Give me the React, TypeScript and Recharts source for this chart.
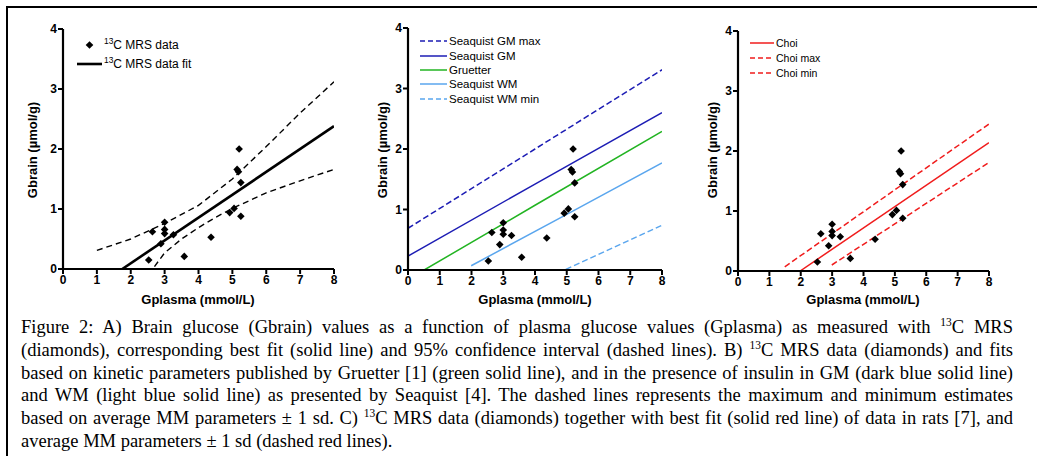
import React from 'react';
import { ComposedChart, XAxis, YAxis, Line, Scatter } from 'recharts';

// 13C MRS measurements (Gplasma mmol/L, Gbrain umol/g)
const mrsData = [
  { x: 2.53, y: 0.15 },
  { x: 2.64, y: 0.62 },
  { x: 2.89, y: 0.42 },
  { x: 3.0, y: 0.78 },
  { x: 3.0, y: 0.66 },
  { x: 3.0, y: 0.59 },
  { x: 3.26, y: 0.57 },
  { x: 3.58, y: 0.21 },
  { x: 4.37, y: 0.53 },
  { x: 4.92, y: 0.94 },
  { x: 5.05, y: 1.01 },
  { x: 5.14, y: 1.66 },
  { x: 5.18, y: 1.62 },
  { x: 5.2, y: 2.0 },
  { x: 5.25, y: 1.44 },
  { x: 5.25, y: 0.88 },
];

const xTicks = [0, 1, 2, 3, 4, 5, 6, 7, 8];
const yTicks = [0, 1, 2, 3, 4];

// panel A
const fitA = [{ x: 1.75, y: 0 }, { x: 8, y: 2.38 }];
const upperA = [
  { x: 1, y: 0.31 }, { x: 2, y: 0.5 }, { x: 3, y: 0.76 }, { x: 4, y: 1.06 },
  { x: 5, y: 1.5 }, { x: 6, y: 2.04 }, { x: 7, y: 2.6 }, { x: 8, y: 3.12 },
];
const lowerA = [
  { x: 2.7, y: 0.04 }, { x: 3, y: 0.27 }, { x: 3.5, y: 0.5 }, { x: 4, y: 0.69 },
  { x: 4.5, y: 0.86 }, { x: 5, y: 1.01 }, { x: 6, y: 1.27 }, { x: 7, y: 1.47 }, { x: 8, y: 1.66 },
];

// panel B
const gmMax = [{ x: 0, y: 0.69 }, { x: 4, y: 2.0 }, { x: 8, y: 3.31 }];
const gm = [{ x: 0, y: 0.23 }, { x: 4, y: 1.42 }, { x: 8, y: 2.6 }];
const gruetter = [{ x: 0.51, y: 0 }, { x: 4, y: 1.07 }, { x: 8, y: 2.29 }];
const wm = [{ x: 1.99, y: 0.07 }, { x: 5, y: 0.92 }, { x: 8, y: 1.77 }];
const wmMin = [{ x: 4.97, y: 0.01 }, { x: 8, y: 0.74 }];

// panel C
const choi = [{ x: 1.98, y: 0 }, { x: 8, y: 2.14 }];
const choiMax = [{ x: 1.49, y: 0.07 }, { x: 8, y: 2.45 }];
const choiMin = [{ x: 2.99, y: 0.1 }, { x: 8, y: 1.81 }];

const captionLines = [
  ['Figure 2: A) Brain glucose (Gbrain) values as a function of plasma glucose values (Gplasma) as measured with ', '13', 'C MRS'],
  ['(diamonds), corresponding best fit (solid line) and 95% confidence interval (dashed lines). B) ', '13', 'C MRS data (diamonds) and fits'],
  ['based on kinetic parameters published by Gruetter [1] (green solid line), and in the presence of insulin in GM (dark blue solid line)'],
  ['and WM (light blue solid line) as presented by Seaquist [4]. The dashed lines represents the maximum and minimum estimates'],
  ['based on average MM parameters \u00b1 1 sd. C) ', '13', 'C MRS data (diamonds) together with best fit (solid red line) of data in rats [7], and'],
  ['average MM parameters \u00b1 1 sd (dashed red lines).'],
];

const SANS = '"Liberation Sans", Arial, sans-serif';
const DARK_BLUE = '#1c1cb4';
const GREEN = '#22b422';
const LIGHT_BLUE = '#5aa6ee';
const RED = '#f01c1c';

const Diamond = (props: any) => {
  const { cx, cy } = props;
  if (cx == null || cy == null) return null;
  const r = 3.8;
  return <path d={`M${cx},${cy - r}L${cx + r},${cy}L${cx},${cy + r}L${cx - r},${cy}Z`} fill="#000" />;
};

const tickStyle = { fill: '#000', fontSize: 12, fontWeight: 700, fontFamily: SANS };

function Panel({ left, top, w, h, children }: any) {
  const yw = 50;
  return (
    <div style={{ position: 'absolute', left: left - yw, top: 0 }}>
      <ComposedChart
        width={yw + w + 6}
        height={top + h + 22}
        margin={{ top, right: 6, left: 0, bottom: 0 }}
      >
        <XAxis
          type="number"
          dataKey="x"
          domain={[0, 8]}
          ticks={xTicks}
          interval={0}
          allowDataOverflow
          height={22}
          tickSize={5}
          tickMargin={1}
          tick={tickStyle}
          axisLine={{ stroke: '#000', strokeWidth: 2.2 }}
          tickLine={{ stroke: '#000', strokeWidth: 2 }}
        />
        <YAxis
          type="number"
          dataKey="y"
          domain={[0, 4]}
          ticks={yTicks}
          interval={0}
          allowDataOverflow
          width={yw}
          tickSize={5}
          tickMargin={1}
          tick={tickStyle}
          axisLine={{ stroke: '#000', strokeWidth: 2.2 }}
          tickLine={{ stroke: '#000', strokeWidth: 2 }}
        />
        {children}
        <Scatter data={mrsData} dataKey="y" shape={Diamond} isAnimationActive={false} />
      </ComposedChart>
    </div>
  );
}

function line(data: any[], color: string, width: number, dash?: string, key?: string) {
  return (
    <Line
      key={key}
      data={data}
      dataKey="y"
      type="linear"
      stroke={color}
      strokeWidth={width}
      strokeDasharray={dash}
      dot={false}
      activeDot={false}
      isAnimationActive={false}
    />
  );
}

function LegendRow({ x, y, len, color, width, dash, label, size, marker }: any) {
  return (
    <div style={{ position: 'absolute', left: x, top: y - 8, height: 16, display: 'flex', alignItems: 'center', fontFamily: SANS, fontSize: size, whiteSpace: 'nowrap' }}>
      <svg width={len} height={16} style={{ display: 'block' }}>
        {marker ? (
          <path d={`M${len / 2},4.2L${len / 2 + 3.8},8L${len / 2},11.8L${len / 2 - 3.8},8Z`} fill="#000" />
        ) : (
          <line x1={0} y1={8} x2={len} y2={8} stroke={color} strokeWidth={width} strokeDasharray={dash} />
        )}
      </svg>
      <span style={{ marginLeft: 2 }}>{label}</span>
    </div>
  );
}

const sup13 = (rest: string) => (
  <>
    <sup style={{ fontSize: '0.7em', verticalAlign: 'super', lineHeight: 0 }}>13</sup>
    {rest}
  </>
);

function YTitle({ x }: { x: number }) {
  return (
    <div style={{ position: 'absolute', left: x - 80, top: 150 - 8, width: 160, height: 16, lineHeight: '16px', textAlign: 'center', transform: 'rotate(-90deg)', fontFamily: SANS, fontWeight: 700, fontSize: 13 }}>
      Gbrain (µmol/g)
    </div>
  );
}

function XTitle({ x }: { x: number }) {
  return (
    <div style={{ position: 'absolute', left: x - 80, top: 300 - 8, width: 160, height: 16, lineHeight: '16px', textAlign: 'center', fontFamily: SANS, fontWeight: 700, fontSize: 13 }}>
      Gplasma (mmol/L)
    </div>
  );
}

export default function App() {
  return (
    <div style={{ position: 'absolute', left: 0, top: 0, width: 1037, height: 456, background: '#fff', overflow: 'hidden' }}>
      <div style={{ position: 'absolute', left: 6, top: 6, width: 1100, height: 500, borderLeft: '2.5px solid #000', borderTop: '2.5px solid #000' }} />

      <Panel left={63} top={29} w={271} h={240}>
        {line(fitA, '#000', 2.6, undefined, 'fit')}
        {line(upperA, '#000', 1.4, '6 4', 'up')}
        {line(lowerA, '#000', 1.4, '6 4', 'lo')}
      </Panel>
      <Panel left={408} top={28} w={254} h={242}>
        {line(gmMax, DARK_BLUE, 1.5, '6 3', 'gmmax')}
        {line(gm, DARK_BLUE, 1.5, undefined, 'gm')}
        {line(gruetter, GREEN, 1.5, undefined, 'gr')}
        {line(wm, LIGHT_BLUE, 1.5, undefined, 'wm')}
        {line(wmMin, LIGHT_BLUE, 1.5, '6 3', 'wmmin')}
      </Panel>
      <Panel left={738} top={31} w={251} h={240}>
        {line(choiMax, RED, 1.5, '6 3', 'cmax')}
        {line(choi, RED, 1.5, undefined, 'c')}
        {line(choiMin, RED, 1.5, '6 3', 'cmin')}
      </Panel>

      <LegendRow x={77} y={45} len={25} marker label={sup13('C MRS data')} size={12} />
      <LegendRow x={77} y={64} len={25} color="#000" width={2.6} label={sup13('C MRS data fit')} size={12} />

      <LegendRow x={420} y={41} len={27} color={DARK_BLUE} width={1.5} dash="5 3" label="Seaquist GM max" size={11.5} />
      <LegendRow x={420} y={56} len={27} color={DARK_BLUE} width={1.5} label="Seaquist GM" size={11.5} />
      <LegendRow x={420} y={70} len={27} color={GREEN} width={1.5} label="Gruetter" size={11.5} />
      <LegendRow x={420} y={84} len={27} color={LIGHT_BLUE} width={1.5} label="Seaquist WM" size={11.5} />
      <LegendRow x={420} y={99} len={27} color={LIGHT_BLUE} width={1.5} dash="5 3" label="Seaquist WM min" size={11.5} />

      <LegendRow x={750} y={43} len={24} color={RED} width={1.5} label="Choi" size={10.5} />
      <LegendRow x={750} y={58} len={24} color={RED} width={1.5} dash="5 3" label="Choi max" size={10.5} />
      <LegendRow x={750} y={73} len={24} color={RED} width={1.5} dash="5 3" label="Choi min" size={10.5} />

      <YTitle x={33} />
      <YTitle x={383} />
      <YTitle x={713} />
      <XTitle x={198} />
      <XTitle x={535} />
      <XTitle x={863} />

      <div style={{ position: 'absolute', left: 21, top: 316, width: 992, fontFamily: '"Liberation Serif", "Times New Roman", serif', fontSize: 18.5, color: '#000' }}>
        {captionLines.map((parts, i) => {
          const last = i === captionLines.length - 1;
          return (
            <div key={i} style={{ height: 22.8, lineHeight: '22.8px', whiteSpace: 'nowrap', textAlign: last ? 'left' : 'justify', textAlignLast: last ? 'left' : 'justify' } as any}>
              {parts.length === 1 ? parts[0] : (
                <>
                  {parts[0]}
                  <sup style={{ fontSize: '0.62em', verticalAlign: 'super', lineHeight: 0 }}>{parts[1]}</sup>
                  {parts[2]}
                </>
              )}
            </div>
          );
        })}
      </div>
    </div>
  );
}
